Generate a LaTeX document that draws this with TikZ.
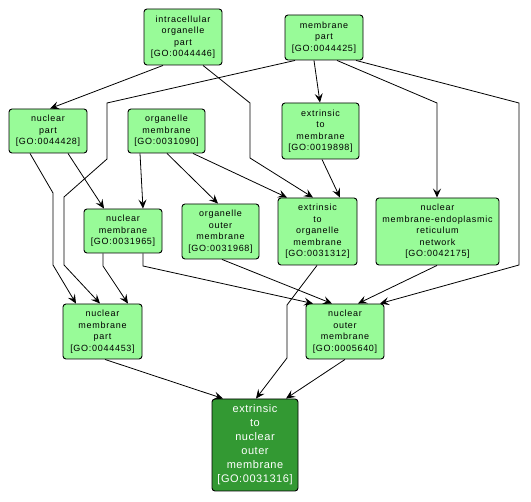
\documentclass[tikz,border=0pt]{standalone}
\usepackage{fontspec}
\newfontfamily\gofont[LetterSpace=8]{Liberation Sans}
\newfontfamily\rootfont[LetterSpace=5]{Liberation Sans}
\usepackage{tikz}
\usetikzlibrary{arrows.meta, calc}

\definecolor{termgreen}{RGB}{152,251,152}
\definecolor{rootgreen}{RGB}{51,153,51}

\begin{document}
\begin{tikzpicture}[x=1pt, y=-1pt, >={Stealth[length=9pt, width=8pt, inset=3.5pt]},
        term/.style={draw=black, line width=0.9pt, fill=termgreen, rounded corners=3pt,
            align=center, inner sep=0pt, font={\gofont\fontsize{9}{11.5}\selectfont}},
        rootterm/.style={term, fill=rootgreen, text=white, font={\rootfont\fontsize{11}{14}\selectfont}},
        edge/.style={->, line width=0.8pt}]
        \useasboundingbox (0,0) rectangle (531,502);

        % Top row
        \node[term, minimum width=78, minimum height=56] (iop) at (183, 37) {intracellular\\organelle\\part\\{[GO:0044446]}};
        \node[term, minimum width=78, minimum height=45] (mp) at (324, 37.5) {membrane\\part\\{[GO:0044425]}};

        % Second row
        \node[term, minimum width=78, minimum height=44] (np) at (48, 131) {nuclear\\part\\{[GO:0044428]}};
        \node[term, minimum width=77, minimum height=44] (om) at (166.5, 131) {organelle\\membrane\\{[GO:0031090]}};
        \node[term, minimum width=77, minimum height=56] (etm) at (320.5, 131) {extrinsic\\to\\membrane\\{[GO:0019898]}};

        % Third row
        \node[term, minimum width=78, minimum height=44] (nm) at (123, 231) {nuclear\\membrane\\{[GO:0031965]}};
        \node[term, minimum width=77, minimum height=55] (oom) at (220.5, 231.5) {organelle\\outer\\membrane\\{[GO:0031968]}};
        \node[term, minimum width=79, minimum height=67] (eto) at (317.5, 231.5) {extrinsic\\to\\organelle\\membrane\\{[GO:0031312]}};
        \node[term, minimum width=123, minimum height=67] (nmer) at (437.5, 231.5) {nuclear\\membrane-endoplasmic\\reticulum\\network\\{[GO:0042175]}};

        % Fourth row
        \node[term, minimum width=79, minimum height=55] (nmp) at (102.5, 331.5) {nuclear\\membrane\\part\\{[GO:0044453]}};
        \node[term, minimum width=78, minimum height=55] (nom) at (345, 331.5) {nuclear\\outer\\membrane\\{[GO:0005640]}};

        % Bottom
        \node[rootterm, minimum width=86, minimum height=92] (enom) at (255, 445) {extrinsic\\to\\nuclear\\outer\\membrane\\{[GO:0031316]}};

        % Edges
        \draw[edge] ($(iop.south)+(-20,0)$) -- ($(np.north)+(2,0)$);
        \draw[edge] ($(iop.south)+(20,0)$) -- (250,103) -- (250,158) -- ($(eto.north)+(-4.5,0)$);
        \draw[edge] ($(mp.south)+(-29,0)$) -- (107,103) -- (107,159) -- (64,197) -- (64,265) -- ($(nmp.north)+(-2.5,0)$);
        \draw[edge] ($(mp.south)+(-10,0)$) -- ($(etm.north)+(-0.5,0)$);
        \draw[edge] ($(mp.south)+(13,0)$) -- (437,103) -- ($(nmer.north)+(-0.5,0)$);
        \draw[edge] ($(mp.south)+(32,0)$) -- (519,103) -- (519,265) -- ($(nom.north)+(35,0)$);
        \draw[edge] ($(np.south)+(-18,0)$) -- (53,193) -- (53,265) -- ($(nmp.north)+(-26.5,0)$);
        \draw[edge] ($(np.south)+(20,0)$) -- ($(nm.north)+(-19,0)$);
        \draw[edge] ($(om.south)+(-26.5,0)$) -- ($(nm.north)+(20,0)$);
        \draw[edge] ($(om.south)+(0.5,0)$) -- ($(oom.north)+(-2.5,0)$);
        \draw[edge] ($(om.south)+(26.5,0)$) -- ($(eto.north)+(-30.5,0)$);
        \draw[edge] ($(etm.south)+(1.5,0)$) -- ($(eto.north)+(22.5,0)$);
        \draw[edge] ($(nm.south)+(-20,0)$) -- (103,266) -- ($(nmp.north)+(25.5,0)$);
        \draw[edge] ($(nm.south)+(20,0)$) -- (143,266) -- ($(nom.north)+(-32,0)$);
        \draw[edge] ($(oom.south)+(1.5,0)$) -- ($(nom.north)+(-13,0)$);
        \draw[edge] ($(eto.south)+(-0.5,0)$) -- (287,305) -- (287,358) -- ($(enom.north)+(1,0)$);
        \draw[edge] ($(nmer.south)+(-0.5,0)$) -- ($(nom.north)+(13,0)$);
        \draw[edge] ($(nmp.south)+(2.5,0)$) -- ($(enom.north)+(-32,0)$);
        \draw[edge] (nom.south) -- ($(enom.north)+(31,0)$);
\end{tikzpicture}
\end{document}
